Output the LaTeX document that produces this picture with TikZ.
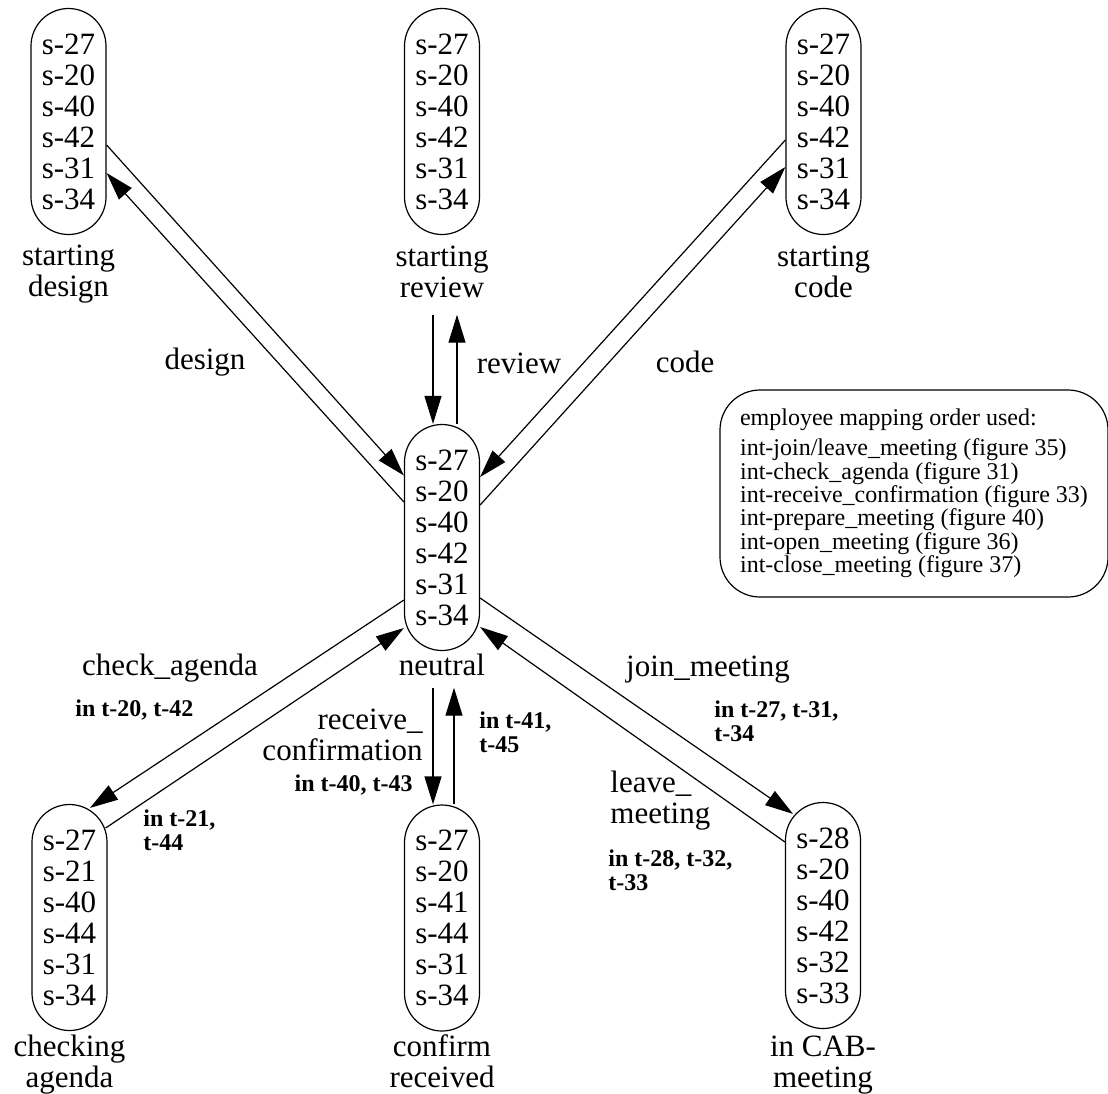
\documentclass[tikz,border=0pt]{standalone}
\usepackage{fontspec}
\setmainfont{Liberation Serif}
\usetikzlibrary{arrows.meta,positioning,calc}

\begin{document}
\begin{tikzpicture}[x=0.5pt, y=-0.5pt, >={Triangle[length=14pt,width=8.5pt]},
  stbox/.style={draw, line width=0.6pt, rounded corners=18.75pt, minimum width=37.5pt,
    minimum height=113pt, inner sep=0pt, align=center,
    font=\fontsize{15.5pt}{15.5pt}\selectfont},
  stlbl/.style={inner sep=0pt, align=center, font=\fontsize{15.5pt}{15.5pt}\selectfont},
  elbl/.style={inner sep=0pt, font=\fontsize{15.5pt}{15.5pt}\selectfont},
  inlbl/.style={inner sep=0pt, align=left, font=\fontsize{12pt}{12pt}\selectfont\bfseries},
  lgbox/.style={draw, line width=0.6pt, rounded corners=20pt, minimum width=194pt,
    minimum height=103.5pt, align=left, font=\fontsize{12pt}{11.7pt}\selectfont},
  arr/.style={->, line width=0.6pt}]
  \useasboundingbox (0,0) rectangle (1108,1093);

  % states
  \node[stbox] (sd) at (68.5,121.5) {s-27\\s-20\\s-40\\s-42\\s-31\\s-34};
  \node[stbox] (sr) at (442,121.5) {s-27\\s-20\\s-40\\s-42\\s-31\\s-34};
  \node[stbox] (sc) at (823.5,121.5) {s-27\\s-20\\s-40\\s-42\\s-31\\s-34};
  \node[stbox] (nt) at (442,537.5) {s-27\\s-20\\s-40\\s-42\\s-31\\s-34};
  \node[stbox] (ca) at (69.5,917.5) {s-27\\s-21\\s-40\\s-44\\s-31\\s-34};
  \node[stbox] (cr) at (442,918) {s-27\\s-20\\s-41\\s-44\\s-31\\s-34};
  \node[stbox] (cm) at (823,915.5) {s-28\\s-20\\s-40\\s-42\\s-32\\s-33};

  \node[stlbl, below=4.5pt of sd] (sdl) {starting\\design};
  \node[stlbl, below=5pt of sr] (srl) {starting\\review};
  \node[stlbl, below=5pt of sc] (scl) {starting\\code};
  \node[stlbl, below=1pt of nt] (ntl) {neutral};
  \node[stlbl, below=1.5pt of ca] (cal) {checking\\agenda};
  \node[stlbl, below=1.5pt of cr] (crl) {confirm\\received};
  \node[stlbl, below=3pt of cm] (cml) {in CAB-\\meeting};

  % transitions
  \draw[arr] ($(sd.east)+(0,23.5)$) -- ($(nt.west)+(0,-62)$);
  \draw[arr] ($(nt.west)+(0,-35.5)$) -- ($(sd.east)+(0,51.5)$);
  \draw[arr, shorten <=8.5pt] ([xshift=-4.5pt]srl.south) -- ([xshift=-4.5pt]nt.north);
  \draw[arr, shorten >=8.5pt] ([xshift=7.5pt]nt.north) -- ([xshift=7.5pt]srl.south);
  \draw[arr] ($(sc.west)+(0,18.5)$) -- ($(nt.east)+(0,-60.5)$);
  \draw[arr] ($(nt.east)+(0,-32.5)$) -- ($(sc.west)+(0,45.5)$);
  \draw[arr] ($(nt.west)+(0,62.5)$) -- ($(ca.north)+(20.5,4)$);
  \draw[arr] ($(ca.east)+(-2,-89.5)$) -- ($(nt.west)+(0,90.5)$);
  \draw[arr, shorten <=6pt] ([xshift=-4.5pt]ntl.south) -- ([xshift=-4.5pt]cr.north);
  \draw[arr, shorten >=6pt] ([xshift=6pt]cr.north) -- ([xshift=6pt]ntl.south);
  \draw[arr] ($(nt.east)+(0,60.5)$) -- ($(cm.north)+(-30,12)$);
  \draw[arr] ($(cm.west)+(0,-73.5)$) -- ($(nt.east)+(0,89.5)$);

  % transition labels
  \node[elbl] (ldes) at (205,362) {design};
  \node[elbl] (lrev) at (519,363) {review};
  \node[elbl] (lcod) at (685,362) {code};
  \node[elbl] (lchk) at (170,668) {check\_agenda};
  \node[inlbl, anchor=west] (ichk) at (75,710) {in t-20, t-42};
  \node[inlbl, anchor=west] (ichkb) at (143,830) {in t-21,\\t-44};
  \node[elbl, align=right, anchor=east] (lrcv) at (423,735) {receive\_\\confirmation};
  \node[inlbl, anchor=east] (ircv) at (413,785) {in t-40, t-43};
  \node[inlbl, anchor=west] (ircvb) at (479,732) {in t-41,\\t-45};
  \node[elbl] (ljoin) at (708,670) {join\_meeting};
  \node[inlbl, anchor=west] (ijoin) at (714,721) {in t-27, t-31,\\t-34};
  \node[elbl, align=left, anchor=west] (llve) at (610,801) {leave\_\\meeting};
  \node[inlbl, anchor=west] (ilve) at (608,870) {in t-28, t-32,\\t-33};

  % legend
  \node[lgbox] (lg) at (914,493.5) {employee mapping order used:\\[3.3pt]
    int-join/leave\_meeting (figure 35)\\
    int-check\_agenda (figure 31)\\
    int-receive\_confirmation (figure 33)\\
    int-prepare\_meeting (figure 40)\\
    int-open\_meeting (figure 36)\\
    int-close\_meeting (figure 37)};
\end{tikzpicture}
\end{document}
